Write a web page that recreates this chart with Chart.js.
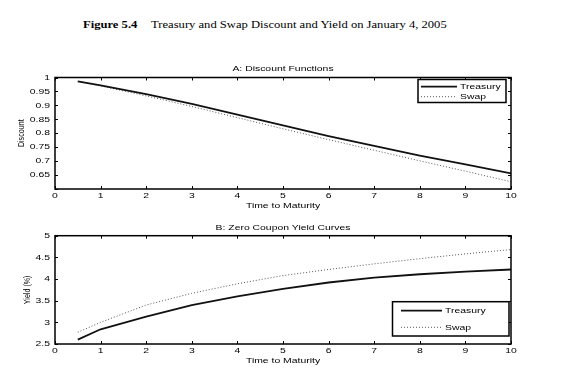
<!DOCTYPE html>
<html><head><meta charset="utf-8">
<script src="https://cdn.jsdelivr.net/npm/chart.js@4"></script>
<style>
html,body{margin:0;padding:0;background:#fff;width:572px;height:379px;overflow:hidden}
#title{position:absolute;left:83px;top:18px;font-family:"Liberation Serif","Times New Roman",serif;font-size:11px;line-height:13px;color:#000;white-space:nowrap;transform-origin:0 0}
#title b{margin-right:12px}
.cw{position:absolute;left:0;width:572px;height:150px}
.cw canvas{display:block}
</style></head><body>
<div id="title"><b>Figure 5.4</b>Treasury and Swap Discount and Yield on January 4, 2005</div>
<div class="cw" style="top:60px"><canvas id="c1" width="572" height="150"></canvas></div>
<div class="cw" style="top:215px"><canvas id="c2" width="572" height="150"></canvas></div>
<script>
// ---- data ----
const maturities = [0.5, 1, 2, 3, 4, 5, 6, 7, 8, 9, 10];
const treasuryDiscount = [0.986, 0.972, 0.940, 0.905, 0.867, 0.828, 0.790, 0.755, 0.720, 0.688, 0.656];
const swapDiscount     = [0.986, 0.970, 0.934, 0.896, 0.856, 0.816, 0.777, 0.739, 0.701, 0.664, 0.626];
const treasuryYield = [2.60, 2.84, 3.13, 3.40, 3.60, 3.77, 3.92, 4.03, 4.11, 4.17, 4.22];
const swapYield     = [2.77, 3.00, 3.40, 3.67, 3.89, 4.08, 4.22, 4.35, 4.47, 4.58, 4.68];
const xTickValues = [0, 1, 2, 3, 4, 5, 6, 7, 8, 9, 10];
const discountTickValues = [0.6, 0.65, 0.7, 0.75, 0.8, 0.85, 0.9, 0.95, 1];
const discountTickLabels = ['', '0.65', '0.7', '0.75', '0.8', '0.85', '0.9', '0.95', '1'];
const yieldTickValues = [2.5, 3, 3.5, 4, 4.5, 5];
const yieldTickLabels = ['2.5', '3', '3.5', '4', '4.5', '5'];
const seriesNames = ['Treasury', 'Swap'];

// fit figure title width
(function(){const t=document.getElementById('title');const w=t.offsetWidth;t.style.transform='scaleX('+(364/w)+')';})();

const SX = 1.3;
const FONT = '8px "Liberation Sans", Arial, sans-serif';
function txt(ctx, s, x, y, align){
  ctx.save(); ctx.translate(x, y); ctx.scale(SX, 1);
  ctx.textAlign = align; ctx.textBaseline = 'middle'; ctx.fillText(s, 0, 0); ctx.restore();
}
function seg(ctx, x1, y1, x2, y2){ ctx.beginPath(); ctx.moveTo(x1, y1); ctx.lineTo(x2, y2); ctx.stroke(); }

function matlabPlugin(o){
  return {
    id: 'matlab',
    afterDraw(chart){
      const ctx = chart.ctx, a = chart.chartArea, xs = chart.scales.x, ys = chart.scales.y;
      ctx.save();
      ctx.fillStyle = '#000'; ctx.strokeStyle = '#000';
      ctx.lineWidth = 1;
      xs.ticks.forEach(t => { const p = Math.round(xs.getPixelForValue(t.value)) + 0.5;
        seg(ctx, p, a.bottom, p, a.bottom - 3); seg(ctx, p, a.top, p, a.top + 3); });
      ys.ticks.forEach(t => { const p = Math.round(ys.getPixelForValue(t.value)) + 0.5;
        seg(ctx, a.left, p, a.left + 3, p); seg(ctx, a.right, p, a.right - 3, p); });
      ctx.lineWidth = 1.5;
      ctx.strokeRect(a.left, a.top, a.right - a.left, a.bottom - a.top);
      ctx.font = FONT;
      xs.ticks.forEach((t, i) => txt(ctx, String(xTickValues[i]), xs.getPixelForValue(t.value), a.bottom + 7, 'center'));
      ys.ticks.forEach((t, i) => txt(ctx, o.yLabels[i], a.left - 5, ys.getPixelForValue(t.value), 'right'));
      txt(ctx, o.title, (a.left + a.right) / 2, a.top - o.titleGap, 'center');
      txt(ctx, 'Time to Maturity', (a.left + a.right) / 2, a.bottom + 16.7, 'center');
      ctx.save();
      ctx.translate(o.yTitleX, (a.top + a.bottom) / 2); ctx.rotate(-Math.PI / 2); ctx.scale(0.95, SX);
      ctx.font = '7.5px "Liberation Sans", Arial, sans-serif';
      ctx.textAlign = 'center'; ctx.textBaseline = 'middle'; ctx.fillText(o.yTitle, 0, 0);
      ctx.restore();
      // legend
      const L = o.legend;
      ctx.fillStyle = '#fff'; ctx.fillRect(L.x, L.y, L.w, L.h);
      ctx.lineWidth = 1.5; ctx.strokeStyle = '#000'; ctx.strokeRect(L.x, L.y, L.w, L.h);
      ctx.fillStyle = '#000';
      chart.data.datasets.forEach((d, i) => {
        const yy = L.rows[i];
        ctx.save(); ctx.strokeStyle = d.borderColor; ctx.lineWidth = d.borderWidth;
        ctx.setLineDash(d.borderDash || []); seg(ctx, L.lx1, yy, L.lx2, yy); ctx.restore();
        txt(ctx, d.label, L.tx, yy, 'left');
      });
      ctx.restore();
    }
  };
}

function makeChart(id, tY, sY, yTicks, yLabels, yMin, yMax, padTop, opts){
  const pts = arr => maturities.map((m, i) => ({x: m, y: arr[i]}));
  return new Chart(document.getElementById(id), {
    type: 'line',
    data: { datasets: [
      {label: seriesNames[0], data: pts(tY), borderColor: '#111', borderWidth: 1.8, pointRadius: 0, tension: 0, fill: false},
      {label: seriesNames[1], data: pts(sY), borderColor: '#555', borderWidth: 1, borderDash: [1, 2], pointRadius: 0, tension: 0, fill: false}
    ]},
    options: {
      responsive: false, animation: false, devicePixelRatio: 1,
      layout: { padding: { top: padTop, right: 61, left: 0, bottom: 0 } },
      plugins: { legend: { display: false }, tooltip: { enabled: false }, title: { display: false } },
      scales: {
        x: { type: 'linear', min: 0, max: 10,
          afterBuildTicks: s => { s.ticks = xTickValues.map(v => ({value: v})); },
          afterFit: s => { s.height = 150 - 129; },
          ticks: { display: false }, grid: { display: false, drawTicks: false }, border: { display: false } },
        y: { type: 'linear', min: yMin, max: yMax,
          afterBuildTicks: s => { s.ticks = yTicks.map(v => ({value: v})); },
          afterFit: s => { s.width = 55; },
          ticks: { display: false }, grid: { display: false, drawTicks: false }, border: { display: false } }
      }
    },
    plugins: [matlabPlugin(Object.assign({yLabels}, opts))]
  });
}

makeChart('c1', treasuryDiscount, swapDiscount, discountTickValues, discountTickLabels, 0.6, 1, 17.5, {
  title: 'A: Discount Functions', titleGap: 8.5, yTitle: 'Discount', yTitleX: 21,
  legend: { x: 418, y: 19.5, w: 88, h: 23, rows: [26.7, 36.7], lx1: 421, lx2: 457, tx: 460 }
});
makeChart('c2', treasuryYield, swapYield, yieldTickValues, yieldTickLabels, 2.5, 5, 20.7, {
  title: 'B: Zero Coupon Yield Curves', titleGap: 8.4, yTitle: 'Yield (%)', yTitleX: 27,
  legend: { x: 392.5, y: 86.7, w: 116.5, h: 34.3, rows: [95.7, 112.3], lx1: 401, lx2: 442, tx: 445 }
});
</script>
</body></html>
